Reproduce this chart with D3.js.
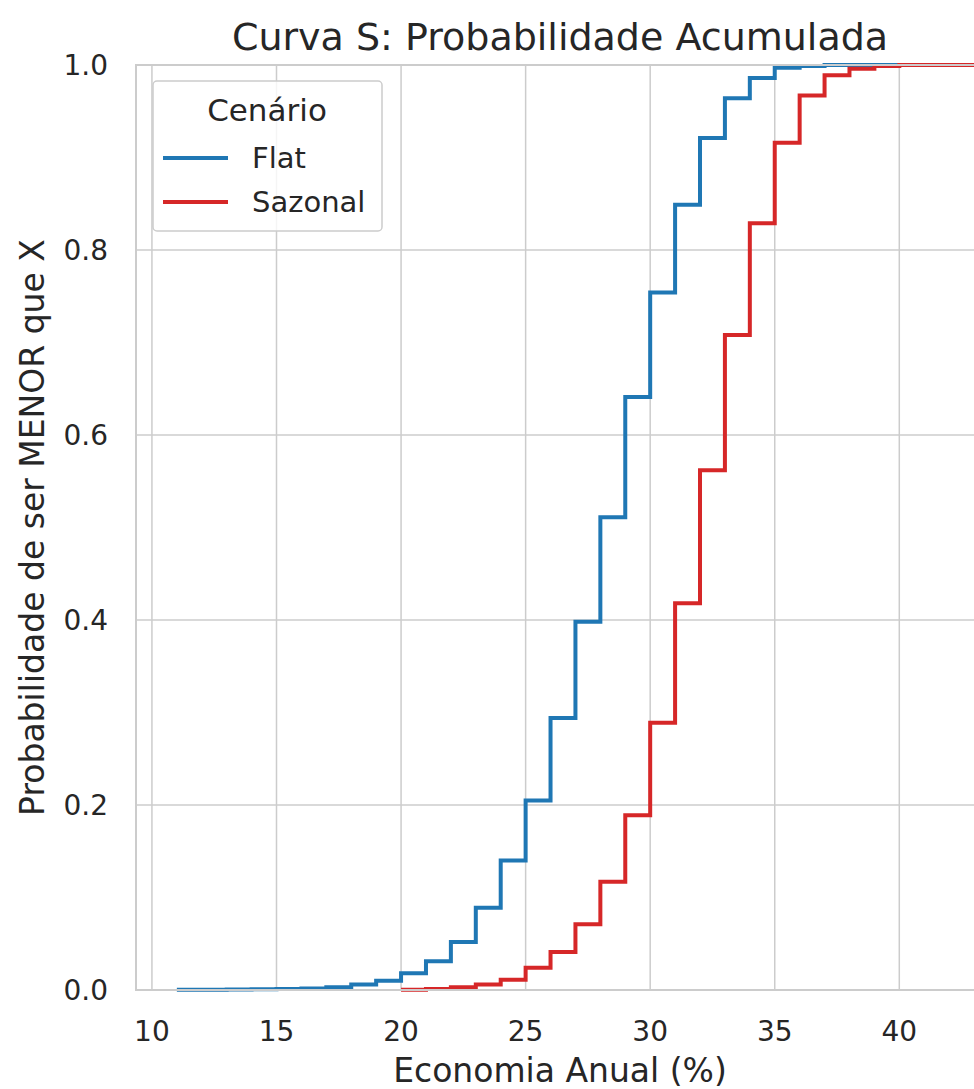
<!DOCTYPE html>
<html>
<head>
<meta charset="utf-8">
<script src="https://cdn.jsdelivr.net/npm/d3@7"></script>
<style>
  body { margin: 0; background: #fff; }
  text { font-family: 'DejaVu Sans', sans-serif; fill: #262626; }
</style>
</head>
<body>
<div class="viz"></div>
<script>
// economia anual (%) where each ECDF step happens
const flatX = [11, 12, 13, 14, 15, 16, 17, 18, 19, 20, 21, 22, 23, 24, 25, 26, 27, 28, 29, 30, 31, 32, 33, 34, 35, 36, 37, 44]
const flatP = [0.0003, 0.0004, 0.0006, 0.0008, 0.001, 0.0015, 0.003, 0.006, 0.010, 0.018, 0.031, 0.052, 0.089, 0.140, 0.205, 0.294, 0.398, 0.511, 0.641, 0.754, 0.849, 0.921, 0.964, 0.986, 0.997, 0.999, 1.0, 1.0]
const sazonalX = [20, 21, 22, 23, 24, 25, 26, 27, 28, 29, 30, 31, 32, 33, 34, 35, 36, 37, 38, 39, 40, 44]
const sazonalP = [0.0003, 0.001, 0.003, 0.006, 0.011, 0.024, 0.041, 0.071, 0.117, 0.189, 0.289, 0.418, 0.562, 0.708, 0.829, 0.916, 0.967, 0.989, 0.996, 0.999, 1.0, 1.0]
const scenarios = ['Flat', 'Sazonal']
const colors = ['#1f77b4', '#d62728']
const xTicks = [10, 15, 20, 25, 30, 35, 40]
const yTicks = [0, 0.2, 0.4, 0.6, 0.8, 1.0]

const width = 974
const height = 1089
const margin = { top: 65, right: -10, bottom: 99, left: 136 }

const svg = d3.select('.viz')
  .append('svg')
    .attr('width', width)
    .attr('height', height)

const x = d3.scaleLinear().domain([9.36, 43.4]).range([margin.left, width - margin.right])
const y = d3.scaleLinear().domain([0, 1]).range([height - margin.bottom, margin.top])

// grid
svg.append('g')
  .selectAll('line')
  .data(xTicks).enter().append('line')
    .attr('x1', d => x(d)).attr('x2', d => x(d))
    .attr('y1', y(0)).attr('y2', y(1))
    .attr('stroke', '#cccccc').attr('stroke-width', 1.5)
svg.append('g')
  .selectAll('line')
  .data(yTicks).enter().append('line')
    .attr('x1', x.range()[0]).attr('x2', x.range()[1])
    .attr('y1', d => y(d)).attr('y2', d => y(d))
    .attr('stroke', '#cccccc').attr('stroke-width', 1.5)

// ecdf lines
const series = [
  { name: scenarios[0], color: colors[0], pts: flatX.map((v, i) => [v, flatP[i]]) },
  { name: scenarios[1], color: colors[1], pts: sazonalX.map((v, i) => [v, sazonalP[i]]) }
]
const line = d3.line().x(d => x(d[0])).y(d => y(d[1])).curve(d3.curveStepAfter)
svg.append('g')
  .selectAll('path')
  .data(series).enter().append('path')
    .attr('d', d => line(d.pts))
    .attr('fill', 'none')
    .attr('stroke', d => d.color)
    .attr('stroke-width', 4)

// spines
svg.append('rect')
  .attr('x', x.range()[0]).attr('y', y(1))
  .attr('width', x.range()[1] - x.range()[0]).attr('height', y(0) - y(1))
  .attr('fill', 'none').attr('stroke', '#cccccc').attr('stroke-width', 2)

// tick labels
svg.append('g')
  .selectAll('text')
  .data(xTicks).enter().append('text')
    .text(d => d)
    .attr('x', d => x(d)).attr('y', y(0) + 51)
    .attr('text-anchor', 'middle')
    .attr('font-size', 28)
svg.append('g')
  .selectAll('text')
  .data(yTicks).enter().append('text')
    .text(d => d.toFixed(1))
    .attr('x', margin.left - 28).attr('y', d => y(d) + 10)
    .attr('text-anchor', 'end')
    .attr('font-size', 28)

// titles
const cx = (x.range()[0] + x.range()[1]) / 2
svg.append('text')
  .text('Curva S: Probabilidade Acumulada')
  .attr('x', cx).attr('y', 50)
  .attr('text-anchor', 'middle')
  .attr('font-size', 38)
svg.append('text')
  .text('Economia Anual (%)')
  .attr('x', cx).attr('y', 1082)
  .attr('text-anchor', 'middle')
  .attr('font-size', 33)
svg.append('text')
  .text('Probabilidade de ser MENOR que X')
  .attr('transform', `translate(44, ${(y(0) + y(1)) / 2}) rotate(-90)`)
  .attr('text-anchor', 'middle')
  .attr('font-size', 33)

// legend
const legend = svg.append('g').attr('transform', `translate(${x.range()[0] + 17}, ${y(1) + 16})`)
legend.append('rect')
  .attr('width', 229).attr('height', 150).attr('rx', 4)
  .attr('fill', 'rgba(255,255,255,0.8)').attr('stroke', '#cccccc').attr('stroke-width', 1.5)
legend.append('text')
  .text('Cenário')
  .attr('x', 114).attr('y', 40)
  .attr('text-anchor', 'middle')
  .attr('font-size', 31)
const items = legend.selectAll('.item')
  .data(series).enter().append('g')
    .attr('transform', (d, i) => `translate(0, ${77 + i * 44})`)
items.append('line')
  .attr('x1', 10).attr('x2', 75)
  .attr('stroke', d => d.color).attr('stroke-width', 4)
items.append('text')
  .text(d => d.name)
  .attr('x', 99).attr('y', 10)
  .attr('font-size', 29)
</script>
</body>
</html>
